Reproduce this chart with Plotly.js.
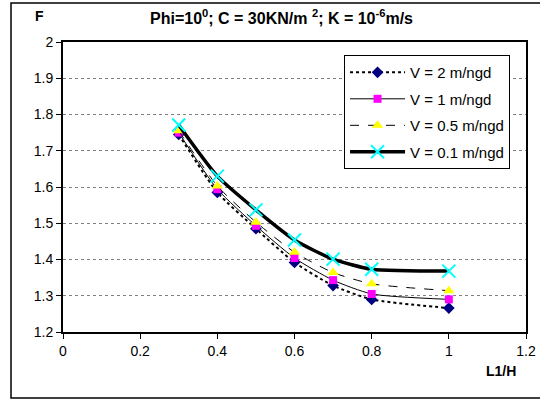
<!DOCTYPE html>
<html>
<head>
<meta charset="utf-8">
<script src="https://cdn.plot.ly/plotly-3.0.1.min.js"></script>
<style>html,body{margin:0;padding:0;background:#fff;}#chart{width:540px;height:402px;}</style>
</head>
<body>
<div id="chart"></div>
<script>
const xL1H = [0.3, 0.4, 0.5, 0.6, 0.7, 0.8, 1.0];
const fV2   = [1.745, 1.585, 1.485, 1.392, 1.328, 1.290, 1.266];
const fV1   = [1.750, 1.594, 1.493, 1.404, 1.343, 1.305, 1.290];
const fV05  = [1.755, 1.603, 1.503, 1.420, 1.364, 1.333, 1.314];
const fV01  = [1.771, 1.630, 1.537, 1.454, 1.401, 1.373, 1.368];
const seriesNames = ["V = 2 m/ngd", "V = 1 m/ngd", "V = 0.5 m/ngd", "V = 0.1 m/ngd"];
const titleText = "Phi=10<sup>0</sup>; C = 30KN/m <sup>2</sup>; K = 10<sup>-6</sup>m/s";
const xTicks = [0, 0.2, 0.4, 0.6, 0.8, 1, 1.2];
const yTicks = [1.2, 1.3, 1.4, 1.5, 1.6, 1.7, 1.8, 1.9, 2];

const FONT = "Arial, 'Liberation Sans', sans-serif";
const traces = [
  {x: xL1H, y: fV2, name: seriesNames[0], mode: "lines+markers",
   line: {color: "#000", width: 2, dash: "dot", shape: "spline", smoothing: 0.6},
   marker: {symbol: "diamond", color: "#000080", size: 9}},
  {x: xL1H, y: fV1, name: seriesNames[1], mode: "lines+markers",
   line: {color: "#000", width: 1, shape: "spline", smoothing: 0.6},
   marker: {symbol: "square", color: "#ff00ff", size: 8}},
  {x: xL1H, y: fV05, name: seriesNames[2], mode: "lines+markers",
   line: {color: "#000", width: 1, dash: "dash", shape: "spline", smoothing: 0.6},
   marker: {symbol: "triangle-up", color: "#ffff00", size: 10}},
  {x: xL1H, y: fV01, name: seriesNames[3], mode: "lines+markers",
   line: {color: "#000", width: 3.5, shape: "spline", smoothing: 0.6},
   marker: {symbol: "x-thin", color: "#00ffff", size: 13, line: {color: "#00ffff", width: 2}}}
];
traces.forEach((t, i) => { t.legendgroup = "g" + i; });

const layout = {
  width: 540, height: 402,
  margin: {l: 63, r: 14, t: 42, b: 70},
  paper_bgcolor: "#fff", plot_bgcolor: "#fff",
  font: {family: FONT, size: 14, color: "#000"},
  title: {text: titleText, font: {family: FONT, size: 16, color: "#000", weight: "bold"},
          x: 0.188, xref: "paper", xanchor: "left", y: 0.955, yanchor: "middle"},
  showlegend: true,
  legend: {x: 0.607, y: 0.955, xanchor: "left", yanchor: "top",
           bgcolor: "#fff", bordercolor: "#000", borderwidth: 1,
           font: {family: FONT, size: 15, color: "#000"},
           traceorder: "grouped", tracegroupgap: 4, itemwidth: 55},
  xaxis: {range: [0, 1.2], tickvals: xTicks, ticktext: xTicks.map(String),
          showgrid: false, zeroline: false, showline: true, mirror: true,
          linecolor: "#000", linewidth: 2, ticks: "outside", ticklen: 5, tickwidth: 1,
          tickcolor: "#000", tickfont: {family: FONT, size: 14, color: "#000"}},
  yaxis: {range: [1.2, 2], tickvals: yTicks, ticktext: yTicks.map(String),
          showgrid: true, gridcolor: "#808080", gridwidth: 1, griddash: "dot",
          zeroline: false, showline: true, mirror: true,
          linecolor: "#000", linewidth: 2, ticks: "outside", ticklen: 5, tickwidth: 1,
          tickcolor: "#000", tickfont: {family: FONT, size: 14, color: "#000"}},
  annotations: [
    {text: "<b>F</b>", xref: "paper", yref: "paper", x: -0.05, y: 1.09,
     xanchor: "center", yanchor: "middle", showarrow: false, font: {family: FONT, size: 14}},
    {text: "<b>L1/H</b>", xref: "paper", yref: "paper", x: 0.945, y: -0.135,
     xanchor: "center", yanchor: "middle", showarrow: false, font: {family: FONT, size: 14}}
  ],
  shapes: [
    {type: "rect", xref: "paper", yref: "paper", x0: -0.1123, x1: 1.2, y0: -0.2276, y1: 1.1345,
     line: {color: "#000", width: 1.5}, fillcolor: "rgba(0,0,0,0)", layer: "below"}
  ]
};

Plotly.newPlot("chart", traces, layout, {displayModeBar: false, staticPlot: true});
</script>
</body>
</html>
